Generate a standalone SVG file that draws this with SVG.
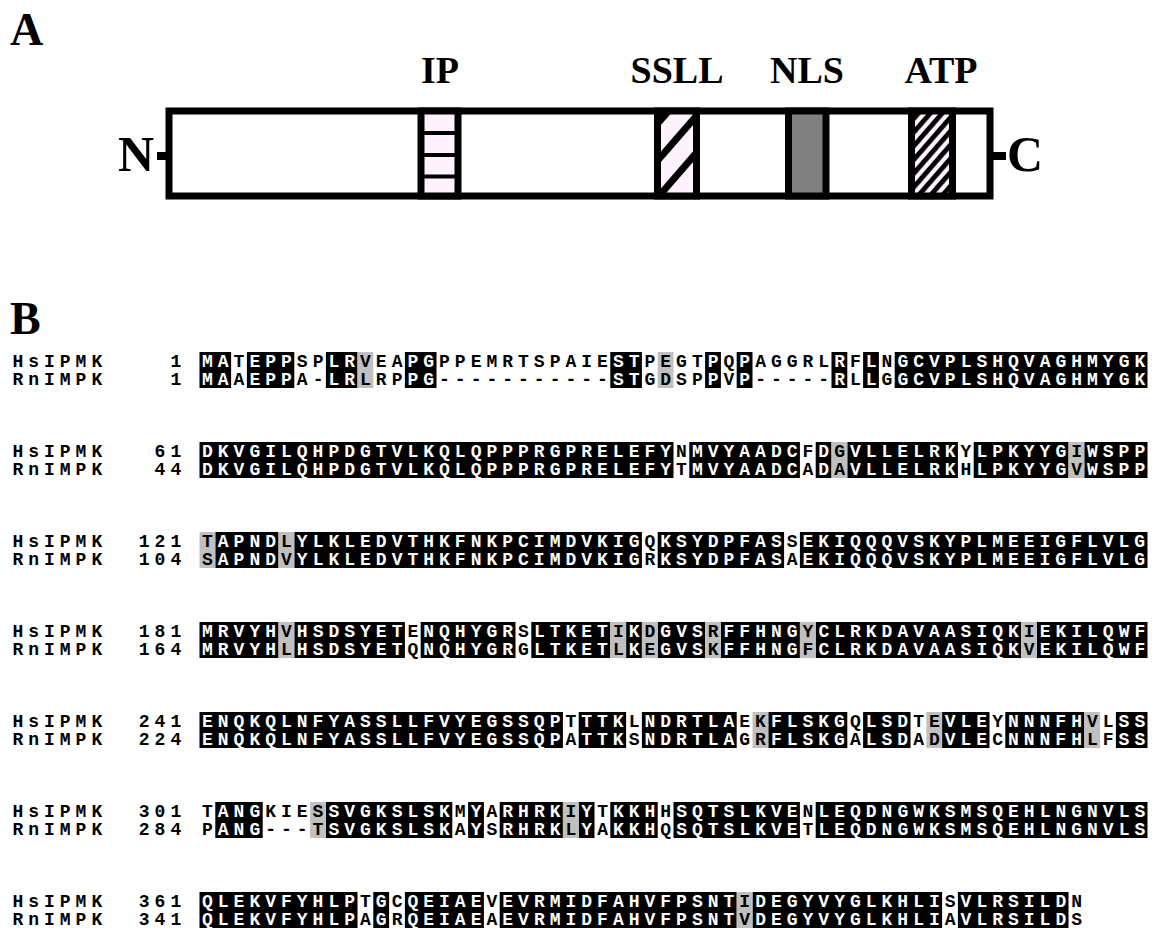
<svg xmlns="http://www.w3.org/2000/svg" width="1157" height="938" viewBox="0 0 1157 938">
<style>
.pl{font-family:"Liberation Serif","Times New Roman",serif;font-weight:bold;font-size:46px;fill:#000}
.dl{font-family:"Liberation Serif","Times New Roman",serif;font-weight:bold;font-size:38px;fill:#000;text-anchor:middle}
.nc{font-family:"Liberation Serif","Times New Roman",serif;font-weight:bold;font-size:50px;fill:#000}
.t{font-family:"Liberation Mono","Courier New",monospace;font-weight:bold;font-size:18px;letter-spacing:5px;fill:#000}
.w{fill:#fff}
.bk{fill:#000}
.gr{fill:#c0c0c0}
.seg{stroke:#000;stroke-width:7}
</style>
<defs>
<pattern id="atpHatch" patternUnits="userSpaceOnUse" width="9" height="9" patternTransform="rotate(41)">
<rect x="0" y="0" width="9" height="9" fill="#fdf2fd"/>
<rect x="0" y="0" width="4.8" height="9" fill="#000"/>
</pattern>
<clipPath id="ssllClip"><rect x="657.5" y="111" width="39" height="85"/></clipPath>
</defs>
<rect width="1157" height="938" fill="#fff"/>

<g id="partA">
<text class="pl" x="10" y="45">A</text>
<g id="labels">
<text class="dl" x="440" y="83">IP</text>
<text class="dl" x="677" y="83">SSLL</text>
<text class="dl" x="807" y="83">NLS</text>
<text class="dl" x="941" y="83">ATP</text>
</g>
<g id="protein">
<text class="nc" x="154" y="171" text-anchor="end">N</text>
<rect x="157" y="152" width="9" height="8" fill="#000"/>
<rect x="169" y="111" width="821" height="85" fill="#fff" stroke="#000" stroke-width="7"/>
<rect x="993" y="152" width="13" height="8" fill="#000"/>
<text class="nc" x="1007" y="171">C</text>
</g>
<g id="domainIP">
<rect class="seg" x="421" y="111" width="37" height="85" fill="#fdf2fd"/>
<rect x="421" y="131" width="37" height="4" fill="#000"/>
<rect x="421" y="153" width="37" height="4" fill="#000"/>
<rect x="421" y="174.5" width="37" height="4" fill="#000"/>
</g>
<g id="domainSSLL">
<rect x="657.5" y="111" width="39" height="85" fill="#fdf2fd"/>
<g clip-path="url(#ssllClip)" stroke="#000" stroke-width="7">
<line x1="626" y1="234" x2="731" y2="113"/>
<line x1="626" y1="197" x2="731" y2="76"/>
<line x1="626" y1="160" x2="731" y2="39"/>
</g>
<rect class="seg" x="657.5" y="111" width="39" height="85" fill="none"/>
</g>
<g id="domainNLS">
<rect class="seg" x="788.5" y="111" width="37.5" height="85" fill="#808080"/>
</g>
<g id="domainATP">
<rect class="seg" x="911.5" y="111" width="41" height="85" fill="url(#atpHatch)"/>
</g>
</g>

<g id="partB">
<text class="pl" x="10" y="334">B</text>

<g id="block1">
<g transform="translate(199.5,352) scale(15.8,1)">
<g class="bk"><rect x="0" y="0" width="2" height="36"/><rect x="3" y="0" width="3" height="36"/><rect x="8" y="0" width="2" height="36"/><rect x="13" y="0" width="2" height="36"/><rect x="26" y="0" width="2" height="36"/><rect x="32" y="0" width="1" height="36"/><rect x="34" y="0" width="1" height="36"/><rect x="40" y="0" width="1" height="36"/><rect x="42" y="0" width="1" height="36"/><rect x="44" y="0" width="16" height="36"/></g>
<g class="gr"><rect x="10" y="0" width="1" height="36"/><rect x="29" y="0" width="1" height="36"/></g>
</g>
<text class="t" x="12.4" y="367">HsIPMK</text><text class="t" x="170.4" y="367">1</text>
<text class="t" x="202" y="367"><tspan class="w">MA</tspan>T<tspan class="w">EPP</tspan>SP<tspan class="w">LR</tspan>VEA<tspan class="w">PG</tspan>PPEMRTSPAIE<tspan class="w">ST</tspan>PEGT<tspan class="w">P</tspan>Q<tspan class="w">P</tspan>AGGRL<tspan class="w">R</tspan>F<tspan class="w">L</tspan>N<tspan class="w">GCVPLSHQVAGHMYGK</tspan></text>
<text class="t" x="12.4" y="385">RnIMPK</text><text class="t" x="170.4" y="385">1</text>
<text class="t" x="202" y="385"><tspan class="w">MA</tspan>A<tspan class="w">EPP</tspan>A-<tspan class="w">LR</tspan>LRP<tspan class="w">PG</tspan>-----------<tspan class="w">ST</tspan>GDSP<tspan class="w">P</tspan>V<tspan class="w">P</tspan>-----<tspan class="w">R</tspan>L<tspan class="w">L</tspan>G<tspan class="w">GCVPLSHQVAGHMYGK</tspan></text>
</g>

<g id="block2">
<g transform="translate(199.5,442) scale(15.8,1)">
<g class="bk"><rect x="0" y="0" width="30" height="36"/><rect x="31" y="0" width="7" height="36"/><rect x="39" y="0" width="1" height="36"/><rect x="41" y="0" width="7" height="36"/><rect x="49" y="0" width="6" height="36"/><rect x="56" y="0" width="4" height="36"/></g>
<g class="gr"><rect x="40" y="0" width="1" height="36"/><rect x="55" y="0" width="1" height="36"/></g>
</g>
<text class="t" x="12.4" y="457">HsIPMK</text><text class="t" x="154.6" y="457">61</text>
<text class="t" x="202" y="457"><tspan class="w">DKVGILQHPDGTVLKQLQPPPRGPRELEFY</tspan>N<tspan class="w">MVYAADC</tspan>F<tspan class="w">D</tspan>G<tspan class="w">VLLELRK</tspan>Y<tspan class="w">LPKYYG</tspan>I<tspan class="w">WSPP</tspan></text>
<text class="t" x="12.4" y="475">RnIMPK</text><text class="t" x="154.6" y="475">44</text>
<text class="t" x="202" y="475"><tspan class="w">DKVGILQHPDGTVLKQLQPPPRGPRELEFY</tspan>T<tspan class="w">MVYAADC</tspan>A<tspan class="w">D</tspan>A<tspan class="w">VLLELRK</tspan>H<tspan class="w">LPKYYG</tspan>V<tspan class="w">WSPP</tspan></text>
</g>

<g id="block3">
<g transform="translate(199.5,532) scale(15.8,1)">
<g class="bk"><rect x="1" y="0" width="4" height="36"/><rect x="6" y="0" width="22" height="36"/><rect x="29" y="0" width="8" height="36"/><rect x="38" y="0" width="22" height="36"/></g>
<g class="gr"><rect x="0" y="0" width="1" height="36"/><rect x="5" y="0" width="1" height="36"/></g>
</g>
<text class="t" x="12.4" y="547">HsIPMK</text><text class="t" x="138.8" y="547">121</text>
<text class="t" x="202" y="547">T<tspan class="w">APND</tspan>L<tspan class="w">YLKLEDVTHKFNKPCIMDVKIG</tspan>Q<tspan class="w">KSYDPFAS</tspan>S<tspan class="w">EKIQQQVSKYPLMEEIGFLVLG</tspan></text>
<text class="t" x="12.4" y="565">RnIMPK</text><text class="t" x="138.8" y="565">104</text>
<text class="t" x="202" y="565">S<tspan class="w">APND</tspan>V<tspan class="w">YLKLEDVTHKFNKPCIMDVKIG</tspan>R<tspan class="w">KSYDPFAS</tspan>A<tspan class="w">EKIQQQVSKYPLMEEIGFLVLG</tspan></text>
</g>

<g id="block4">
<g transform="translate(199.5,622) scale(15.8,1)">
<g class="bk"><rect x="0" y="0" width="5" height="36"/><rect x="6" y="0" width="7" height="36"/><rect x="14" y="0" width="6" height="36"/><rect x="21" y="0" width="5" height="36"/><rect x="27" y="0" width="1" height="36"/><rect x="29" y="0" width="3" height="36"/><rect x="33" y="0" width="5" height="36"/><rect x="39" y="0" width="13" height="36"/><rect x="53" y="0" width="7" height="36"/></g>
<g class="gr"><rect x="5" y="0" width="1" height="36"/><rect x="26" y="0" width="1" height="36"/><rect x="28" y="0" width="1" height="36"/><rect x="32" y="0" width="1" height="36"/><rect x="38" y="0" width="1" height="36"/><rect x="52" y="0" width="1" height="36"/></g>
</g>
<text class="t" x="12.4" y="637">HsIPMK</text><text class="t" x="138.8" y="637">181</text>
<text class="t" x="202" y="637"><tspan class="w">MRVYH</tspan>V<tspan class="w">HSDSYET</tspan>E<tspan class="w">NQHYGR</tspan>S<tspan class="w">LTKET</tspan>I<tspan class="w">K</tspan>D<tspan class="w">GVS</tspan>R<tspan class="w">FFHNG</tspan>Y<tspan class="w">CLRKDAVAASIQK</tspan>I<tspan class="w">EKILQWF</tspan></text>
<text class="t" x="12.4" y="655">RnIMPK</text><text class="t" x="138.8" y="655">164</text>
<text class="t" x="202" y="655"><tspan class="w">MRVYH</tspan>L<tspan class="w">HSDSYET</tspan>Q<tspan class="w">NQHYGR</tspan>G<tspan class="w">LTKET</tspan>L<tspan class="w">K</tspan>E<tspan class="w">GVS</tspan>K<tspan class="w">FFHNG</tspan>F<tspan class="w">CLRKDAVAASIQK</tspan>V<tspan class="w">EKILQWF</tspan></text>
</g>

<g id="block5">
<g transform="translate(199.5,712) scale(15.8,1)">
<g class="bk"><rect x="0" y="0" width="23" height="36"/><rect x="24" y="0" width="3" height="36"/><rect x="28" y="0" width="6" height="36"/><rect x="36" y="0" width="5" height="36"/><rect x="42" y="0" width="3" height="36"/><rect x="47" y="0" width="3" height="36"/><rect x="51" y="0" width="5" height="36"/><rect x="58" y="0" width="2" height="36"/></g>
<g class="gr"><rect x="35" y="0" width="1" height="36"/><rect x="46" y="0" width="1" height="36"/><rect x="56" y="0" width="1" height="36"/></g>
</g>
<text class="t" x="12.4" y="727">HsIPMK</text><text class="t" x="138.8" y="727">241</text>
<text class="t" x="202" y="727"><tspan class="w">ENQKQLNFYASSLLFVYEGSSQP</tspan>T<tspan class="w">TTK</tspan>L<tspan class="w">NDRTLA</tspan>EK<tspan class="w">FLSKG</tspan>Q<tspan class="w">LSD</tspan>TE<tspan class="w">VLE</tspan>Y<tspan class="w">NNNFH</tspan>VL<tspan class="w">SS</tspan></text>
<text class="t" x="12.4" y="745">RnIMPK</text><text class="t" x="138.8" y="745">224</text>
<text class="t" x="202" y="745"><tspan class="w">ENQKQLNFYASSLLFVYEGSSQP</tspan>A<tspan class="w">TTK</tspan>S<tspan class="w">NDRTLA</tspan>GR<tspan class="w">FLSKG</tspan>A<tspan class="w">LSD</tspan>AD<tspan class="w">VLE</tspan>C<tspan class="w">NNNFH</tspan>LF<tspan class="w">SS</tspan></text>
</g>

<g id="block6">
<g transform="translate(199.5,802) scale(15.8,1)">
<g class="bk"><rect x="1" y="0" width="3" height="36"/><rect x="8" y="0" width="8" height="36"/><rect x="17" y="0" width="1" height="36"/><rect x="19" y="0" width="4" height="36"/><rect x="24" y="0" width="1" height="36"/><rect x="26" y="0" width="3" height="36"/><rect x="30" y="0" width="8" height="36"/><rect x="39" y="0" width="21" height="36"/></g>
<g class="gr"><rect x="7" y="0" width="1" height="36"/><rect x="23" y="0" width="1" height="36"/></g>
</g>
<text class="t" x="12.4" y="817">HsIPMK</text><text class="t" x="138.8" y="817">301</text>
<text class="t" x="202" y="817">T<tspan class="w">ANG</tspan>KIES<tspan class="w">SVGKSLSK</tspan>M<tspan class="w">Y</tspan>A<tspan class="w">RHRK</tspan>I<tspan class="w">Y</tspan>T<tspan class="w">KKH</tspan>H<tspan class="w">SQTSLKVE</tspan>N<tspan class="w">LEQDNGWKSMSQEHLNGNVLS</tspan></text>
<text class="t" x="12.4" y="835">RnIMPK</text><text class="t" x="138.8" y="835">284</text>
<text class="t" x="202" y="835">P<tspan class="w">ANG</tspan>---T<tspan class="w">SVGKSLSK</tspan>A<tspan class="w">Y</tspan>S<tspan class="w">RHRK</tspan>L<tspan class="w">Y</tspan>A<tspan class="w">KKH</tspan>Q<tspan class="w">SQTSLKVE</tspan>T<tspan class="w">LEQDNGWKSMSQEHLNGNVLS</tspan></text>
</g>

<g id="block7">
<g transform="translate(199.5,892) scale(15.8,1)">
<g class="bk"><rect x="0" y="0" width="10" height="36"/><rect x="11" y="0" width="1" height="36"/><rect x="13" y="0" width="5" height="36"/><rect x="19" y="0" width="15" height="36"/><rect x="35" y="0" width="12" height="36"/><rect x="48" y="0" width="7" height="36"/></g>
<g class="gr"><rect x="34" y="0" width="1" height="36"/></g>
</g>
<text class="t" x="12.4" y="907">HsIPMK</text><text class="t" x="138.8" y="907">361</text>
<text class="t" x="202" y="907"><tspan class="w">QLEKVFYHLP</tspan>T<tspan class="w">G</tspan>C<tspan class="w">QEIAE</tspan>V<tspan class="w">EVRMIDFAHVFPSNT</tspan>I<tspan class="w">DEGYVYGLKHLI</tspan>S<tspan class="w">VLRSILD</tspan>N</text>
<text class="t" x="12.4" y="925">RnIMPK</text><text class="t" x="138.8" y="925">341</text>
<text class="t" x="202" y="925"><tspan class="w">QLEKVFYHLP</tspan>A<tspan class="w">G</tspan>R<tspan class="w">QEIAE</tspan>A<tspan class="w">EVRMIDFAHVFPSNT</tspan>V<tspan class="w">DEGYVYGLKHLI</tspan>A<tspan class="w">VLRSILD</tspan>S</text>
</g>
</g>
</svg>
